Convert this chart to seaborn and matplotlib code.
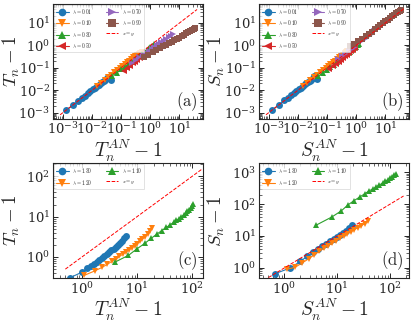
import numpy as np
import pandas as pd
import matplotlib
matplotlib.use("Agg")
import matplotlib.pyplot as plt
import matplotlib.ticker as mticker
import seaborn as sns

sns.set_style("ticks")
plt.rcParams["mathtext.fontset"] = "cm"
plt.rcParams["font.family"] = ["DejaVu Serif"]

# ---------------- data ----------------
lam_small = [r"$\lambda = 0.01$", r"$\lambda = 0.10$", r"$\lambda = 0.30$",
             r"$\lambda = 0.50$", r"$\lambda = 0.70$", r"$\lambda = 0.90$"]
lam_big = [r"$\lambda = 1.30$", r"$\lambda = 1.20$", r"$\lambda = 1.10$"]

# panel (a) & (b) x values
x01 = [0.0013, 0.0023, 0.0034, 0.0045, 0.0058, 0.0072, 0.0088, 0.0105, 0.0125, 0.0145,
       0.017, 0.0195, 0.022, 0.025, 0.028, 0.032, 0.036, 0.040, 0.044]
x10 = [0.015, 0.02, 0.027, 0.035, 0.045, 0.058, 0.072, 0.09, 0.11, 0.13,
       0.16, 0.19, 0.22, 0.26, 0.3, 0.35, 0.4, 0.45, 0.5]
x30 = [0.05, 0.07, 0.1, 0.13, 0.17, 0.22, 0.28, 0.35, 0.43, 0.52, 0.62, 0.74, 0.87, 1.0, 1.15, 1.3]
x50 = [0.12, 0.16, 0.2, 0.25, 0.3, 0.36, 0.43, 0.5, 0.58, 0.68, 0.8, 0.92]
x70 = [0.24, 0.32, 0.42, 0.55, 0.7, 0.88, 1.1, 1.35, 1.65, 2.0, 2.4, 2.9, 3.5, 4.2, 5.0, 5.8]
x90 = [0.6, 0.85, 1.2, 1.6, 2.1, 2.7, 3.4, 4.3, 5.4, 6.7, 8.2, 10, 12, 14.5, 17, 20,
       23.5, 27, 31, 35]

# panel (a) T_n - 1
ta01 = [0.0013, 0.0022, 0.0034, 0.0045, 0.0058, 0.0073, 0.009, 0.0108, 0.013, 0.015,
        0.0178, 0.0205, 0.023, 0.026, 0.030, 0.034, 0.040, 0.036, 0.030]
ta10 = [0.016, 0.021, 0.028, 0.037, 0.048, 0.062, 0.078, 0.098, 0.12, 0.145,
        0.175, 0.21, 0.245, 0.29, 0.33, 0.38, 0.43, 0.48, 0.53]
ta30 = [0.045, 0.06, 0.085, 0.11, 0.14, 0.18, 0.23, 0.29, 0.36, 0.44, 0.52, 0.62, 0.73, 0.85, 0.98, 1.1]
ta50 = [0.075, 0.1, 0.125, 0.16, 0.19, 0.23, 0.27, 0.32, 0.37, 0.43, 0.5, 0.57]
ta70 = [0.17, 0.22, 0.29, 0.37, 0.47, 0.58, 0.7, 0.85, 1.0, 1.2, 1.4, 1.65, 1.95, 2.3, 2.7, 3.1]
ta90 = [0.3, 0.38, 0.5, 0.62, 0.76, 0.9, 1.05, 1.25, 1.45, 1.7, 1.95, 2.25, 2.6, 3.0, 3.4,
        3.9, 4.4, 5.0, 5.6, 6.2]

# panel (b) S_n - 1
sb01 = [0.0013, 0.0023, 0.0035, 0.0046, 0.006, 0.0075, 0.0092, 0.011, 0.013, 0.0152,
        0.018, 0.0205, 0.023, 0.026, 0.030, 0.035, 0.041, 0.037, 0.033]
sb10 = [0.016, 0.022, 0.029, 0.038, 0.05, 0.064, 0.08, 0.1, 0.122, 0.145,
        0.178, 0.21, 0.245, 0.29, 0.335, 0.39, 0.44, 0.5, 0.55]
sb30 = [0.042, 0.058, 0.082, 0.107, 0.14, 0.18, 0.235, 0.295, 0.365, 0.445, 0.53, 0.64, 0.75, 0.87, 1.0, 1.14]
sb50 = [0.085, 0.115, 0.145, 0.185, 0.225, 0.27, 0.33, 0.39, 0.46, 0.54, 0.65, 0.76]
sb70 = [0.24, 0.32, 0.42, 0.55, 0.7, 0.88, 1.1, 1.36, 1.67, 2.03, 2.45, 2.97, 3.6, 4.35, 5.2, 6.1]
sb90 = [0.95, 1.15, 1.5, 1.95, 2.55, 3.25, 4.1, 5.2, 6.5, 8.0, 9.8, 12, 14.3, 17.2, 20,
        23.5, 27.5, 31, 35, 39]

# panel (c) & (d)
xc13 = [0.62, 1.0, 1.25, 1.45, 1.65, 1.85, 2.05, 2.3, 2.55, 2.8, 3.1, 3.4, 3.75, 4.1,
        4.5, 4.9, 5.4, 5.9, 6.4]
yc13 = [0.31, 0.42, 0.52, 0.6, 0.68, 0.76, 0.85, 0.95, 1.05, 1.17, 1.3, 1.45, 1.6, 1.8,
        2.0, 2.25, 2.55, 2.9, 3.4]
xc12 = [1.1, 1.7, 2.3, 2.9, 3.5, 4.1, 4.8, 5.5, 6.3, 7.1, 8.0, 9.0, 10, 11.2, 12.5, 14,
        15.5, 17, 18.5]
yc12 = [0.35, 0.45, 0.55, 0.66, 0.78, 0.9, 1.03, 1.17, 1.33, 1.5, 1.7, 1.9, 2.15, 2.45,
        2.8, 3.2, 3.7, 4.3, 5.2]
xc11 = [4.0, 7.0, 10, 14, 18, 23, 28, 34, 40, 46, 52, 58, 64, 70, 76, 82, 88, 94, 100, 105]
yc11 = [0.75, 1.1, 1.6, 2.2, 2.9, 3.7, 4.5, 5.4, 6.3, 7.2, 8.1, 9.0, 10, 11, 12.2, 13.5,
        15, 16.5, 18.5, 21]

xd13 = [0.65, 1.3, 2.0, 2.7, 3.5, 4.3, 5.2, 6.2, 7.3, 8.5, 9.8, 11.2, 12.8, 14.5, 16.5, 19]
yd13 = [0.65, 1.0, 1.6, 2.3, 3.1, 3.9, 4.8, 5.8, 7.0, 8.2, 9.6, 11, 12.8, 14.8, 17.5, 22]
xd12 = [1.1, 1.6, 2.2, 2.9, 3.7, 4.6, 5.6, 6.8, 8.1, 9.6, 11.3, 13.2, 15.4, 18, 21, 24.5,
        28.5, 33, 38]
yd12 = [0.9, 1.05, 1.45, 1.95, 2.6, 3.3, 4.1, 5.0, 6.0, 7.2, 8.5, 10, 11.7, 13.6, 15.8,
        18.3, 21, 24.5, 29]
xd11 = [4.0, 8.0, 12, 16, 21, 27, 33, 40, 47, 55, 63, 72, 81, 90, 100, 110, 120, 130]
yd11 = [22, 40, 62, 95, 130, 170, 210, 260, 300, 350, 400, 460, 520, 580, 650, 730, 810, 900]

diag_a = [8e-4, 40]
diag_b = [8e-4, 45]
diag_c = [0.5, 150]
diag_d = [0.5, 180]

markers_small = ["o", "v", "^", "<", ">", "s"]
markers_big = ["o", "v", "^"]
pal = sns.color_palette("tab10")

# ---------------- figure ----------------
fig, axes = plt.subplots(2, 2, figsize=(4.15, 3.26), dpi=100)
fig.subplots_adjust(left=0.128, right=0.986, top=0.988, bottom=0.147,
                    wspace=0.37, hspace=0.39)


def draw(ax, xs, ys, labels, markers, diag, xlabel, ylabel, tag, xlim, ylim):
    for i, (x, y, lab, m) in enumerate(zip(xs, ys, labels, markers)):
        df = pd.DataFrame({"x": x, "y": y})
        sns.lineplot(data=df, x="x", y="y", ax=ax, color=pal[i], marker=m,
                     markersize=5, markeredgewidth=0, linewidth=0.8,
                     sort=False, estimator=None, label=lab)
    dd = pd.DataFrame({"x": diag, "y": diag})
    sns.lineplot(data=dd, x="x", y="y", ax=ax, color="red", linestyle="--",
                 linewidth=0.7, label=r"$x = y$")
    ax.set_xscale("log")
    ax.set_yscale("log")
    ax.set_xlim(*xlim)
    ax.set_ylim(*ylim)
    for axis in (ax.xaxis, ax.yaxis):
        axis.set_major_locator(mticker.LogLocator(base=10, numticks=20))
        axis.set_minor_locator(mticker.LogLocator(base=10, subs=np.arange(2, 10), numticks=20))
        axis.set_minor_formatter(mticker.NullFormatter())
    ax.set_xlabel(xlabel, fontsize=14, labelpad=0)
    ax.set_ylabel(ylabel, fontsize=13.5, labelpad=0)
    ax.yaxis.set_label_coords(-0.21, 0.5)
    ax.tick_params(which="both", direction="in", top=True, right=True,
                   labelsize=9.5, pad=2)
    ax.tick_params(which="major", length=3.5, width=0.7)
    ax.tick_params(which="minor", length=2, width=0.5)
    for s in ax.spines.values():
        s.set_linewidth(0.8)
    ax.text(0.96, 0.05, tag, transform=ax.transAxes, ha="right", va="bottom",
            fontsize=12)
    leg = ax.legend(loc="upper left", ncol=2, fontsize=3.8, frameon=True,
                    borderpad=0.4, labelspacing=0.45, handlelength=2.4,
                    columnspacing=2.6, handletextpad=0.6, borderaxespad=0.15,
                    fancybox=False, edgecolor="0.8", markerscale=1.1)
    leg.get_frame().set_linewidth(0.5)


draw(axes[0, 0], [x01, x10, x30, x50, x70, x90],
     [ta01, ta10, ta30, ta50, ta70, ta90], lam_small, markers_small, diag_a,
     r"$T_n^{AN}-1$", r"$T_n-1$", r"$\mathrm{(a)}$", (4.6e-4, 66), (5.4e-4, 71))
draw(axes[0, 1], [x01, x10, x30, x50, x70, x90],
     [sb01, sb10, sb30, sb50, sb70, sb90], lam_small, markers_small, diag_b,
     r"$S_n^{AN}-1$", r"$S_n-1$", r"$\mathrm{(b)}$", (4.6e-4, 66), (5.4e-4, 71))
draw(axes[1, 0], [xc13, xc12, xc11], [yc13, yc12, yc11], lam_big, markers_big,
     diag_c, r"$T_n^{AN}-1$", r"$T_n-1$", r"$\mathrm{(c)}$", (0.3, 160), (0.3, 210))
draw(axes[1, 1], [xd13, xd12, xd11], [yd13, yd12, yd11], lam_big, markers_big,
     diag_d, r"$S_n^{AN}-1$", r"$S_n-1$", r"$\mathrm{(d)}$", (0.33, 230), (0.48, 1900))

fig.savefig("out.png", dpi=100)
